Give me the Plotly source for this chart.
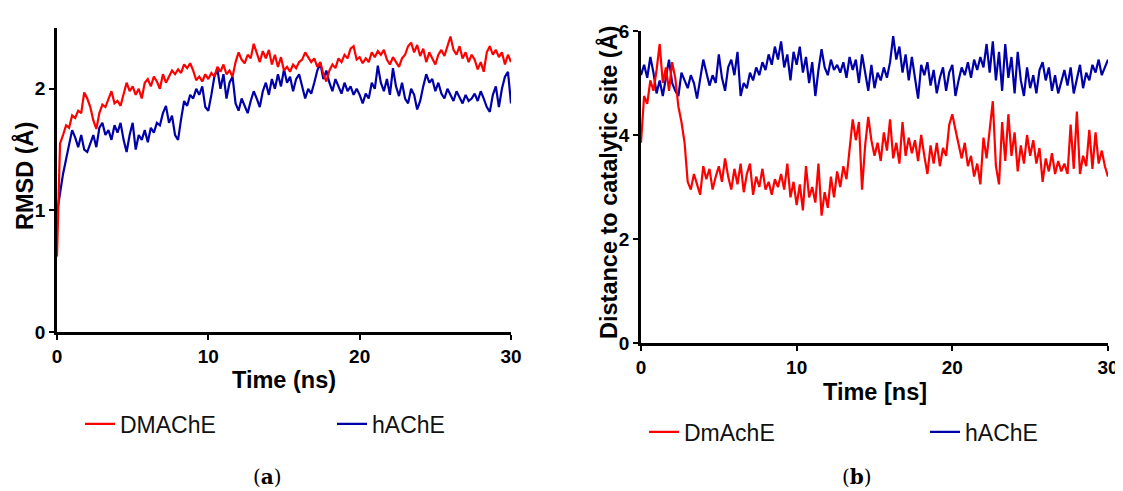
import plotly.graph_objects as go

# The page body has an 8px margin, so the figure is made 8px smaller and
# every pixel position below is given in window coordinates minus that offset.
WIN_W, WIN_H = 1123, 491
OFF = 8
W, H = WIN_W - OFF, WIN_H - OFF

# ---------------- data ----------------
rmsd_dmache = [
    0.62, 1.55, 1.62, 1.70, 1.68, 1.78, 1.76, 1.82, 1.80, 1.97,
    1.92, 1.85, 1.74, 1.67, 1.80, 1.87, 1.85, 1.92, 1.98, 1.88,
    1.90, 1.86, 1.95, 2.05, 1.98, 2.02, 1.95, 2.00, 1.92, 2.05,
    2.08, 2.02, 2.10, 2.06, 2.00, 2.12, 2.05, 2.10, 2.15, 2.12,
    2.16, 2.13, 2.20, 2.17, 2.21, 2.15, 2.07, 2.10, 2.06, 2.12,
    2.08, 2.13, 2.10, 2.18, 2.14, 2.20, 2.12, 2.15, 2.10, 2.22,
    2.30, 2.24, 2.21, 2.28, 2.25, 2.37, 2.30, 2.22, 2.31, 2.25,
    2.32, 2.20, 2.28, 2.18, 2.26, 2.15, 2.18, 2.14, 2.20, 2.17,
    2.22, 2.24, 2.30, 2.26, 2.22, 2.25, 2.18, 2.22, 2.12, 2.06,
    2.15, 2.20, 2.17, 2.25, 2.22, 2.28, 2.25, 2.33, 2.35, 2.24,
    2.26, 2.21, 2.25, 2.22, 2.30, 2.26, 2.31, 2.28, 2.32, 2.24,
    2.20, 2.26, 2.22, 2.18, 2.25, 2.28, 2.35, 2.38, 2.30, 2.36,
    2.27, 2.33, 2.22, 2.30, 2.25, 2.20, 2.28, 2.32, 2.27, 2.35,
    2.43, 2.32, 2.28, 2.35, 2.25, 2.30, 2.22, 2.28, 2.24, 2.16,
    2.22, 2.14, 2.30, 2.35, 2.28, 2.32, 2.26, 2.30, 2.20, 2.28,
    2.22,
]

rmsd_hache = [
    0.98, 1.15, 1.30, 1.42, 1.55, 1.66, 1.60, 1.52, 1.62, 1.50,
    1.48, 1.56, 1.62, 1.52, 1.68, 1.72, 1.62, 1.66, 1.58, 1.70,
    1.64, 1.72, 1.58, 1.48, 1.62, 1.72, 1.50, 1.62, 1.58, 1.66,
    1.56, 1.68, 1.64, 1.72, 1.70, 1.80, 1.86, 1.72, 1.78, 1.62,
    1.58, 1.75, 1.90, 1.86, 1.95, 1.92, 2.00, 1.95, 2.02, 1.85,
    1.82, 1.95, 2.10, 2.16, 2.00, 2.12, 1.92, 2.05, 2.10, 1.88,
    1.82, 1.92, 1.86, 1.80, 1.90, 1.98, 1.92, 1.85, 1.98, 2.05,
    1.95, 2.08, 2.00, 2.12, 2.02, 2.16, 2.05, 2.10, 1.98, 2.08,
    2.12, 2.02, 1.92, 2.00, 1.96, 2.05, 2.15, 2.21, 2.08, 2.15,
    2.05, 1.98, 2.08, 2.02, 1.96, 2.05, 1.98, 2.02, 1.95, 2.00,
    1.95, 1.88, 1.96, 1.92, 2.05, 2.00, 2.19, 2.05, 1.98, 2.08,
    1.95, 2.17, 2.02, 1.94, 2.05, 1.92, 1.88, 2.00, 1.95, 1.83,
    1.90, 2.02, 2.12, 2.05, 2.08, 1.98, 2.05, 1.96, 1.92, 2.00,
    1.95, 1.90, 1.98, 1.93, 1.88, 1.95, 1.90, 1.92, 1.96, 1.90,
    1.98, 1.92, 1.85, 1.81, 1.95, 2.02, 1.85, 2.00, 2.10, 2.14,
    1.88,
]

dist_dmache = [
    3.85, 4.75, 4.60, 5.05, 4.85, 5.25, 5.75, 5.00, 5.30, 4.85,
    5.40, 5.10, 4.55, 4.25, 3.85, 3.10, 2.95, 3.25, 3.05, 2.85,
    3.40, 3.15, 3.35, 2.95, 3.20, 3.40, 3.10, 3.55, 3.20, 2.95,
    3.35, 3.05, 3.45, 2.90, 3.25, 3.45, 2.85, 3.20, 3.00, 3.35,
    2.95, 3.10, 2.85, 3.15, 3.00, 3.25, 2.95, 3.45, 2.80, 3.10,
    2.65, 3.05, 2.55, 3.40, 2.80, 3.00, 2.70, 3.45, 2.45, 2.90,
    2.60, 3.20, 2.80, 3.30, 3.00, 3.40, 3.15, 3.70, 4.30, 3.90,
    4.25, 2.95, 3.80, 4.35, 3.90, 3.60, 3.85, 3.50, 4.05, 3.70,
    4.30, 3.55, 3.85, 3.45, 4.25, 3.60, 3.95, 3.65, 3.90, 3.50,
    4.00, 3.60, 3.25, 3.80, 3.45, 3.85, 3.40, 3.75, 3.60, 4.20,
    4.40, 4.10, 3.80, 3.55, 3.85, 3.40, 3.60, 3.20, 3.45, 3.05,
    3.95, 3.55, 4.10, 4.65, 3.40, 3.05, 4.25, 3.50, 4.40, 3.60,
    4.05, 3.30, 3.80, 3.45, 4.00, 3.60, 3.90, 3.45, 3.75, 3.10,
    3.55, 3.30, 3.65, 3.25, 3.50, 3.30, 3.45, 3.25, 4.20, 3.35,
    4.45, 3.25, 3.60, 3.40, 4.10, 3.35, 4.05, 3.45, 3.70, 3.40,
    3.20,
]

dist_hache = [
    5.15, 5.35, 5.10, 5.50, 5.20, 4.80, 5.05, 4.75, 5.10, 5.45,
    5.00, 4.85, 4.75, 5.20, 5.05, 4.90, 5.15, 5.00, 4.70, 5.10,
    5.45, 5.20, 4.95, 5.15, 5.00, 5.55, 5.10, 4.85, 5.30, 5.45,
    5.15, 5.60, 4.75, 5.00, 4.90, 5.20, 5.05, 5.30, 5.15, 5.40,
    5.25, 5.55, 5.35, 5.70, 5.45, 5.80, 5.30, 5.55, 5.05, 5.60,
    5.35, 5.70, 5.20, 5.50, 5.00, 5.40, 4.75, 5.25, 5.65, 5.30,
    5.15, 5.45, 5.25, 5.35, 5.20, 5.40, 5.10, 5.50, 5.25, 5.45,
    5.00, 5.55, 5.20, 4.85, 5.35, 4.90, 5.20, 5.05, 5.30, 5.10,
    5.40, 5.90, 5.45, 5.70, 5.20, 5.55, 5.05, 5.50, 5.10, 4.70,
    5.35, 5.15, 5.40, 4.95, 5.25, 4.80, 5.10, 5.30, 4.85, 5.20,
    5.35, 4.75, 5.05, 5.30, 5.15, 5.40, 5.10, 5.45, 5.25, 5.50,
    5.30, 5.75, 5.20, 5.80, 5.05, 5.60, 4.85, 5.75, 5.10, 5.50,
    4.80, 5.60, 5.05, 4.75, 5.30, 4.90, 5.15, 4.80, 5.25, 5.40,
    5.05, 5.30, 4.85, 5.15, 4.80, 5.00, 5.25, 4.95, 5.30, 4.80,
    5.10, 5.35, 4.90, 5.20, 5.05, 5.35, 5.20, 5.45, 5.15, 5.30,
    5.45,
]

x_ticks = [0, 10, 20, 30]
y_ticks_a = [0, 1, 2]
y_ticks_b = [0, 2, 4, 6]


def times(vals):
    n = len(vals)
    return [30.0 * i / (n - 1) for i in range(n)]


RED = "#FF0000"
BLUE = "#0000AA"
LW = 2.2

fig = go.Figure()
fig.add_trace(go.Scatter(x=times(rmsd_hache), y=rmsd_hache, mode="lines", name="hAChE",
                         line=dict(color=BLUE, width=LW), xaxis="x", yaxis="y", legend="legend2"))
fig.add_trace(go.Scatter(x=times(rmsd_dmache), y=rmsd_dmache, mode="lines", name="DMAChE",
                         line=dict(color=RED, width=LW), xaxis="x", yaxis="y", legend="legend"))
fig.add_trace(go.Scatter(x=times(dist_hache), y=dist_hache, mode="lines", name="hAChE",
                         line=dict(color=BLUE, width=LW), xaxis="x2", yaxis="y2", legend="legend4"))
fig.add_trace(go.Scatter(x=times(dist_dmache), y=dist_dmache, mode="lines", name="DmAchE",
                         line=dict(color=RED, width=LW), xaxis="x2", yaxis="y2", legend="legend3"))


def px(x):
    return (x - OFF) / W


def py(y):
    return 1 - (y - OFF) / H


def tick_axis(vals):
    return dict(
        showline=True, linecolor="black", linewidth=2.5, showgrid=False, zeroline=False,
        ticks="outside", ticklen=5, tickwidth=2, tickcolor="black", automargin=False,
        ticklabeloverflow="allow",
        tickmode="array", tickvals=vals, ticktext=["<b>%d</b>" % v for v in vals],
        tickfont=dict(family="Liberation Sans", size=19, color="black"),
    )


legfont = dict(family="Liberation Sans", size=23, color="#111111")


def leg(xp, yp):
    return dict(x=px(xp), y=py(yp), xanchor="left", yanchor="middle", bgcolor="rgba(0,0,0,0)",
                borderwidth=0, font=legfont, orientation="h")


fig.update_layout(
    width=W, height=H, margin=dict(l=0, r=0, t=0, b=0, pad=0, autoexpand=False),
    paper_bgcolor="white", plot_bgcolor="white",
    xaxis=dict(domain=[px(57), px(511)], range=[0, 30], anchor="y", **tick_axis(x_ticks)),
    yaxis=dict(domain=[py(332), py(28)], range=[0, 2.5], anchor="x", **tick_axis(y_ticks_a)),
    xaxis2=dict(domain=[px(641), px(1108)], range=[0, 30], anchor="y2", **tick_axis(x_ticks)),
    yaxis2=dict(domain=[py(343), py(31)], range=[0, 6], anchor="x2", **tick_axis(y_ticks_b)),
    legend=leg(80, 424),
    legend2=leg(332, 424),
    legend3=leg(644, 432),
    legend4=leg(925, 432),
    showlegend=True,
)

titlefont = dict(family="Liberation Sans", size=23.5, color="black")
ann = [
    dict(text="<b>Time (ns)</b>", x=px(284), y=py(380), textangle=0),
    dict(text="<b>RMSD (Å)</b>", x=px(24), y=py(176), textangle=-90),
    dict(text="<b>Time [ns]</b>", x=px(875), y=py(392), textangle=0),
    dict(text="<b>Distance to catalytic site (Å)</b>", x=px(608), y=py(183), textangle=-90),
]
for a in ann:
    fig.add_annotation(xref="paper", yref="paper", showarrow=False, xanchor="center", yanchor="middle",
                       font=titlefont, **a)

labfont = dict(family="DejaVu Serif", size=20, color="black")
fig.add_annotation(text="(<b>a</b>)", x=px(267), y=py(477), xref="paper", yref="paper", showarrow=False,
                   xanchor="center", yanchor="middle", font=labfont)
fig.add_annotation(text="(<b>b</b>)", x=px(857), y=py(477), xref="paper", yref="paper", showarrow=False,
                   xanchor="center", yanchor="middle", font=labfont)

fig.write_html("out.html")
